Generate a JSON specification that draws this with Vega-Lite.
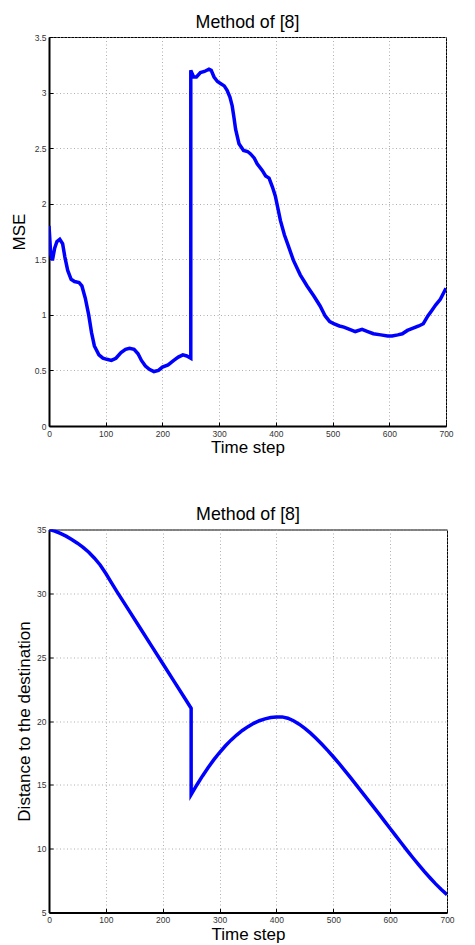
{
  "$schema": "https://vega.github.io/schema/vega-lite/v6.json",
  "padding": {"left": 9, "top": 13, "right": 5, "bottom": 0},
  "background": "white",
  "config": {
    "font": "Liberation Sans",
    "view": {"stroke": "#000", "strokeWidth": 1},
    "title": {"fontSize": 17.8, "fontWeight": "normal", "color": "#000", "font": "Liberation Sans", "offset": 1.5},
    "axis": {
      "domainColor": "#000",
      "domainWidth": 2,
      "gridColor": "#9a9a9a",
      "gridDash": [1, 2.5],
      "gridWidth": 0.8,
      "tickColor": "#000",
      "tickSize": -4,
      "labelPadding": 7,
      "labelFontSize": 8.5,
      "labelColor": "#333",
      "labelFlush": false,
      "labelFont": "Liberation Sans",
      "titleFont": "Liberation Sans",
      "titleFontSize": 17,
      "titleFontWeight": "normal",
      "titleColor": "#000"
    },
    "line": {"color": "#0000ff", "strokeWidth": 3.5}
  },
  "datasets": {
    "mse": [
      {"t": 0, "v": 1.80}, {"t": 3, "v": 1.55}, {"t": 6, "v": 1.49}, {"t": 10, "v": 1.60},
      {"t": 14, "v": 1.66}, {"t": 19, "v": 1.68}, {"t": 24, "v": 1.64}, {"t": 28, "v": 1.52},
      {"t": 33, "v": 1.40}, {"t": 39, "v": 1.32}, {"t": 45, "v": 1.30}, {"t": 53, "v": 1.29},
      {"t": 58, "v": 1.26}, {"t": 64, "v": 1.15}, {"t": 70, "v": 1.00}, {"t": 75, "v": 0.84},
      {"t": 80, "v": 0.72}, {"t": 88, "v": 0.64}, {"t": 95, "v": 0.61}, {"t": 102, "v": 0.60},
      {"t": 110, "v": 0.59}, {"t": 118, "v": 0.61}, {"t": 127, "v": 0.66}, {"t": 135, "v": 0.69},
      {"t": 142, "v": 0.70}, {"t": 150, "v": 0.69}, {"t": 157, "v": 0.65}, {"t": 163, "v": 0.59},
      {"t": 170, "v": 0.54}, {"t": 177, "v": 0.51}, {"t": 185, "v": 0.49}, {"t": 193, "v": 0.50},
      {"t": 200, "v": 0.53}, {"t": 210, "v": 0.55}, {"t": 220, "v": 0.59}, {"t": 228, "v": 0.62},
      {"t": 236, "v": 0.64}, {"t": 243, "v": 0.63}, {"t": 250, "v": 0.61}, {"t": 250, "v": 3.20},
      {"t": 255, "v": 3.14}, {"t": 260, "v": 3.14}, {"t": 267, "v": 3.18}, {"t": 274, "v": 3.19},
      {"t": 282, "v": 3.21}, {"t": 286, "v": 3.20}, {"t": 291, "v": 3.14}, {"t": 297, "v": 3.10},
      {"t": 303, "v": 3.08}, {"t": 309, "v": 3.06}, {"t": 314, "v": 3.02}, {"t": 319, "v": 2.96},
      {"t": 323, "v": 2.88}, {"t": 326, "v": 2.78}, {"t": 329, "v": 2.67}, {"t": 335, "v": 2.54},
      {"t": 343, "v": 2.48}, {"t": 350, "v": 2.47}, {"t": 355, "v": 2.45}, {"t": 362, "v": 2.41},
      {"t": 367, "v": 2.36}, {"t": 376, "v": 2.30}, {"t": 382, "v": 2.25}, {"t": 388, "v": 2.23},
      {"t": 394, "v": 2.15}, {"t": 399, "v": 2.07}, {"t": 404, "v": 1.95}, {"t": 408, "v": 1.85},
      {"t": 415, "v": 1.72}, {"t": 422, "v": 1.62}, {"t": 431, "v": 1.49}, {"t": 443, "v": 1.36},
      {"t": 455, "v": 1.26}, {"t": 467, "v": 1.17}, {"t": 478, "v": 1.08}, {"t": 487, "v": 0.99},
      {"t": 495, "v": 0.94}, {"t": 502, "v": 0.92}, {"t": 512, "v": 0.90}, {"t": 520, "v": 0.89},
      {"t": 530, "v": 0.87}, {"t": 540, "v": 0.85}, {"t": 552, "v": 0.87}, {"t": 562, "v": 0.85},
      {"t": 572, "v": 0.83}, {"t": 585, "v": 0.82}, {"t": 597, "v": 0.81}, {"t": 605, "v": 0.81},
      {"t": 615, "v": 0.82}, {"t": 623, "v": 0.83}, {"t": 632, "v": 0.86}, {"t": 642, "v": 0.88},
      {"t": 652, "v": 0.90}, {"t": 660, "v": 0.92}, {"t": 668, "v": 0.99}, {"t": 675, "v": 1.04},
      {"t": 682, "v": 1.09}, {"t": 690, "v": 1.14}, {"t": 695, "v": 1.19}, {"t": 700, "v": 1.24}
    ],
    "dist": [
      {"t": 0, "v": 35.0}, {"t": 10, "v": 34.88}, {"t": 20, "v": 34.7}, {"t": 30, "v": 34.48},
      {"t": 40, "v": 34.22}, {"t": 50, "v": 33.93}, {"t": 60, "v": 33.6}, {"t": 70, "v": 33.22},
      {"t": 80, "v": 32.75}, {"t": 90, "v": 32.22}, {"t": 100, "v": 31.55}, {"t": 110, "v": 30.82},
      {"t": 120, "v": 30.1}, {"t": 140, "v": 28.7}, {"t": 160, "v": 27.3}, {"t": 180, "v": 25.9},
      {"t": 200, "v": 24.5}, {"t": 220, "v": 23.1}, {"t": 240, "v": 21.7}, {"t": 250, "v": 21.0},
      {"t": 250, "v": 14.23}, {"t": 260, "v": 14.99}, {"t": 270, "v": 15.7}, {"t": 280, "v": 16.36},
      {"t": 290, "v": 16.97}, {"t": 300, "v": 17.53}, {"t": 310, "v": 18.04}, {"t": 320, "v": 18.5},
      {"t": 330, "v": 18.9}, {"t": 340, "v": 19.26}, {"t": 350, "v": 19.56}, {"t": 360, "v": 19.82},
      {"t": 370, "v": 20.02}, {"t": 380, "v": 20.17}, {"t": 390, "v": 20.27}, {"t": 400, "v": 20.32},
      {"t": 410, "v": 20.32}, {"t": 420, "v": 20.22}, {"t": 430, "v": 20.02}, {"t": 440, "v": 19.75},
      {"t": 450, "v": 19.42}, {"t": 460, "v": 19.05}, {"t": 470, "v": 18.63}, {"t": 480, "v": 18.18},
      {"t": 490, "v": 17.7}, {"t": 500, "v": 17.2}, {"t": 510, "v": 16.68}, {"t": 520, "v": 16.14},
      {"t": 530, "v": 15.58}, {"t": 540, "v": 15.02}, {"t": 550, "v": 14.45}, {"t": 560, "v": 13.88},
      {"t": 570, "v": 13.31}, {"t": 580, "v": 12.74}, {"t": 590, "v": 12.16}, {"t": 600, "v": 11.58},
      {"t": 610, "v": 11.0}, {"t": 620, "v": 10.42}, {"t": 630, "v": 9.85}, {"t": 640, "v": 9.29},
      {"t": 650, "v": 8.75}, {"t": 660, "v": 8.22}, {"t": 670, "v": 7.72}, {"t": 680, "v": 7.24},
      {"t": 690, "v": 6.8}, {"t": 700, "v": 6.4}
    ]
  },
  "spacing": 49.5,
  "vconcat": [
    {
      "title": "Method of [8]",
      "width": 397,
      "height": 389,
      "data": {"name": "mse"},
      "mark": {"type": "line", "clip": true},
      "encoding": {
        "x": {"field": "t", "type": "quantitative", "scale": {"domain": [0, 700], "nice": false},
              "axis": {"values": [0, 100, 200, 300, 400, 500, 600, 700], "title": "Time step", "titlePadding": 2}},
        "y": {"field": "v", "type": "quantitative", "scale": {"domain": [0, 3.5], "nice": false},
              "axis": {"values": [0, 0.5, 1, 1.5, 2, 2.5, 3, 3.5], "format": "~g", "title": "MSE", "titlePadding": 6}},
        "order": {"value": null}
      }
    },
    {
      "title": "Method of [8]",
      "width": 398,
      "height": 383,
      "data": {"name": "dist"},
      "mark": {"type": "line", "clip": true},
      "encoding": {
        "x": {"field": "t", "type": "quantitative", "scale": {"domain": [0, 700], "nice": false},
              "axis": {"values": [0, 100, 200, 300, 400, 500, 600, 700], "title": "Time step", "titlePadding": 2}},
        "y": {"field": "v", "type": "quantitative", "scale": {"domain": [5, 35], "nice": false},
              "axis": {"values": [5, 10, 15, 20, 25, 30, 35], "format": "~g", "title": "Distance to the destination", "titlePadding": 3}},
        "order": {"value": null}
      }
    }
  ]
}
